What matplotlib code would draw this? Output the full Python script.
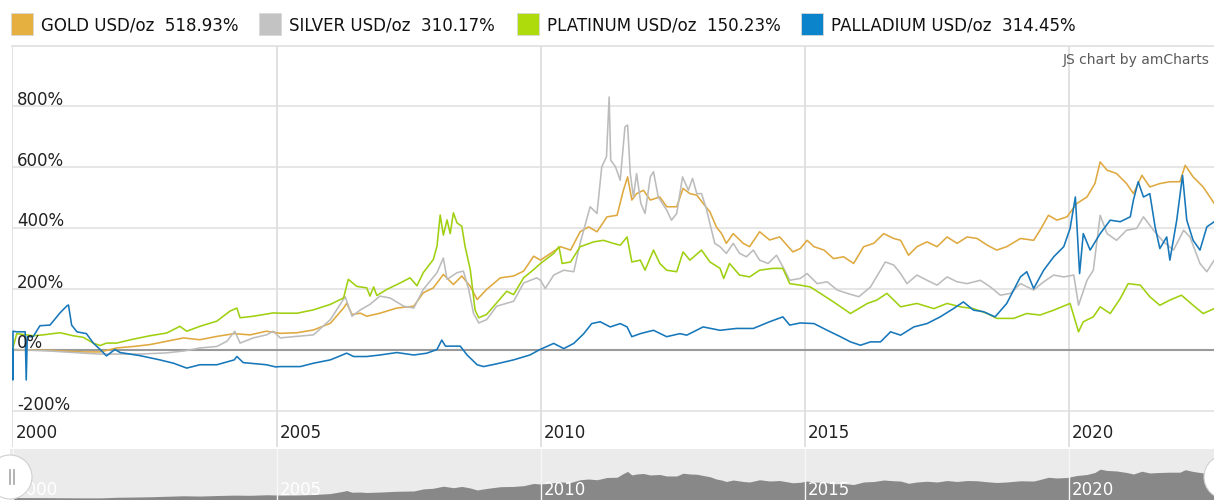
import matplotlib
matplotlib.use("Agg")
import matplotlib.pyplot as plt
import matplotlib.patches as mpatches
import matplotlib.transforms as mtransforms

# ---- data (percent change since 2000) ----
gold_years = [2000.00, 2000.71, 2001.34, 2001.66, 2001.97, 2002.29, 2002.60, 2002.92, 2003.24, 2003.55,
              2003.87, 2004.20, 2004.50, 2004.81, 2005.07, 2005.39, 2005.70, 2006.02, 2006.27, 2006.33,
              2006.43, 2006.59, 2006.71, 2006.96, 2007.28, 2007.60, 2007.78, 2007.97, 2008.16, 2008.35,
              2008.51, 2008.67, 2008.80, 2008.98, 2009.24, 2009.49, 2009.68, 2009.87, 2010.00, 2010.19,
              2010.38, 2010.57, 2010.75, 2010.91, 2011.07, 2011.26, 2011.45, 2011.57, 2011.65, 2011.73,
              2011.82, 2011.95, 2012.08, 2012.26, 2012.39, 2012.58, 2012.70, 2012.83, 2012.96, 2013.08,
              2013.21, 2013.33, 2013.43, 2013.52, 2013.65, 2013.84, 2013.96, 2014.15, 2014.34, 2014.53,
              2014.78, 2014.92, 2015.05, 2015.18, 2015.37, 2015.55, 2015.74, 2015.93, 2016.12, 2016.31,
              2016.50, 2016.69, 2016.82, 2016.97, 2017.13, 2017.32, 2017.51, 2017.70, 2017.89, 2018.08,
              2018.27, 2018.46, 2018.64, 2018.83, 2019.09, 2019.34, 2019.46, 2019.62, 2019.78, 2019.97,
              2020.16, 2020.35, 2020.50, 2020.60, 2020.73, 2020.91, 2021.10, 2021.23, 2021.39, 2021.54,
              2021.73, 2021.92, 2022.11, 2022.21, 2022.36, 2022.55, 2022.76]
gold_pct = [0, -3, -8, -8, 5, 10, 16, 27, 38, 32,
            43, 52, 48, 60, 53, 55, 64, 86, 136, 152,
            115, 119, 109, 119, 136, 142, 186, 202, 246, 213,
            241, 207, 164, 197, 235, 241, 257, 306, 293, 315,
            337, 326, 386, 402, 386, 435, 440, 522, 566, 490,
            511, 522, 490, 500, 468, 468, 528, 511, 506, 479,
            451, 402, 380, 348, 380, 348, 337, 386, 359, 369,
            320, 331, 358, 337, 326, 298, 304, 282, 337, 348,
            380, 364, 358, 309, 337, 353, 337, 369, 348, 369,
            364, 342, 326, 337, 364, 358, 391, 440, 424, 435,
            479, 500, 544, 615, 588, 577, 544, 511, 571, 533,
            544, 550, 550, 604, 566, 533, 479]

silver_years = [2000.00, 2000.71, 2001.34, 2001.66, 2002.04, 2002.41, 2002.92, 2003.24, 2003.55, 2003.87,
                2004.06, 2004.21, 2004.31, 2004.56, 2004.81, 2004.94, 2005.07, 2005.39, 2005.70, 2006.02,
                2006.30, 2006.43, 2006.59, 2006.77, 2006.96, 2007.15, 2007.41, 2007.60, 2007.78, 2008.04,
                2008.16, 2008.23, 2008.42, 2008.54, 2008.64, 2008.73, 2008.83, 2008.98, 2009.17, 2009.49,
                2009.68, 2009.93, 2010.00, 2010.09, 2010.25, 2010.44, 2010.63, 2010.75, 2010.94, 2011.07,
                2011.16, 2011.25, 2011.30, 2011.33, 2011.42, 2011.51, 2011.60, 2011.65, 2011.70, 2011.76,
                2011.82, 2011.90, 2011.98, 2012.08, 2012.14, 2012.23, 2012.39, 2012.48, 2012.58, 2012.69,
                2012.80, 2012.88, 2012.96, 2013.05, 2013.14, 2013.24, 2013.30, 2013.40, 2013.52, 2013.65,
                2013.77, 2013.90, 2014.03, 2014.15, 2014.31, 2014.47, 2014.59, 2014.72, 2014.92, 2015.05,
                2015.24, 2015.43, 2015.62, 2015.81, 2016.03, 2016.25, 2016.44, 2016.53, 2016.69, 2016.82,
                2016.94, 2017.13, 2017.32, 2017.51, 2017.70, 2017.89, 2018.08, 2018.33, 2018.52, 2018.71,
                2018.90, 2019.09, 2019.34, 2019.53, 2019.72, 2019.91, 2020.10, 2020.19, 2020.35, 2020.47,
                2020.60, 2020.73, 2020.91, 2021.10, 2021.29, 2021.42, 2021.61, 2021.80, 2021.99, 2022.18,
                2022.30, 2022.49, 2022.62, 2022.76]
silver_pct = [0, -5, -12, -15, -15, -15, -11, -5, 5, 10,
              27, 60, 21, 38, 48, 60, 38, 43, 48, 98,
              173, 109, 130, 148, 175, 169, 142, 136, 197, 252,
              300, 230, 252, 257, 197, 119, 87, 98, 142, 158,
              218, 235, 227, 200, 244, 260, 255, 348, 468, 446,
              599, 632, 828, 621, 599, 555, 730, 736, 577, 500,
              577, 479, 446, 566, 583, 500, 457, 424, 446, 566,
              522, 561, 511, 511, 462, 391, 348, 337, 315, 348,
              315, 304, 326, 293, 282, 309, 271, 227, 233, 249,
              216, 222, 195, 184, 173, 205, 260, 287, 277, 249,
              216, 244, 227, 211, 238, 222, 216, 227, 205, 178,
              184, 216, 195, 222, 244, 238, 244, 145, 227, 260,
              440, 380, 358, 391, 397, 435, 391, 353, 326, 391,
              369, 282, 255, 293]

platinum_years = [2000.00, 2000.08, 2000.39, 2000.58, 2000.90, 2001.15, 2001.34, 2001.53, 2001.66, 2001.78,
                  2001.97, 2002.29, 2002.60, 2002.92, 2003.17, 2003.30, 2003.55, 2003.87, 2004.12, 2004.25,
                  2004.31, 2004.56, 2004.94, 2005.07, 2005.39, 2005.70, 2006.02, 2006.27, 2006.36, 2006.52,
                  2006.71, 2006.77, 2006.84, 2006.90, 2007.09, 2007.34, 2007.53, 2007.66, 2007.78, 2007.97,
                  2008.04, 2008.10, 2008.16, 2008.23, 2008.29, 2008.35, 2008.42, 2008.51, 2008.57, 2008.67,
                  2008.76, 2008.83, 2008.98, 2009.17, 2009.36, 2009.49, 2009.68, 2009.87, 2010.00, 2010.25,
                  2010.35, 2010.41, 2010.57, 2010.75, 2011.01, 2011.19, 2011.38, 2011.51, 2011.64, 2011.73,
                  2011.89, 2011.98, 2012.14, 2012.26, 2012.39, 2012.58, 2012.70, 2012.83, 2013.05, 2013.21,
                  2013.40, 2013.47, 2013.58, 2013.77, 2013.96, 2014.15, 2014.40, 2014.59, 2014.72, 2014.92,
                  2015.11, 2015.30, 2015.55, 2015.87, 2016.19, 2016.37, 2016.56, 2016.82, 2017.13, 2017.45,
                  2017.70, 2017.95, 2018.20, 2018.46, 2018.64, 2018.96, 2019.21, 2019.46, 2019.72, 2020.03,
                  2020.19, 2020.28, 2020.47, 2020.60, 2020.79, 2020.98, 2021.13, 2021.36, 2021.54, 2021.73,
                  2021.92, 2022.14, 2022.36, 2022.55, 2022.76]
platinum_pct = [0, 52, 45, 48, 55, 45, 40, 21, 13, 21,
                21, 34, 45, 54, 76, 60, 76, 93, 126, 136,
                104, 109, 120, 119, 119, 130, 148, 169, 230, 207,
                202, 175, 205, 177, 197, 218, 235, 209, 252, 295,
                339, 441, 375, 425, 380, 448, 415, 404, 339, 262,
                130, 104, 115, 153, 191, 180, 235, 262, 282, 315,
                337, 282, 287, 337, 353, 358, 348, 342, 369, 287,
                293, 260, 326, 282, 260, 255, 320, 293, 326, 287,
                266, 233, 282, 244, 238, 260, 266, 266, 216, 211,
                205, 184, 156, 118, 151, 162, 184, 140, 151, 134,
                151, 140, 134, 118, 102, 102, 118, 113, 129, 151,
                58, 91, 107, 140, 118, 167, 216, 211, 173, 145,
                162, 178, 145, 118, 134]

palladium_years = [2000.00, 2000.005, 2000.01, 2000.08, 2000.24, 2000.26, 2000.28, 2000.39, 2000.52, 2000.71,
                   2000.90, 2001.03, 2001.06, 2001.12, 2001.22, 2001.40, 2001.53, 2001.66, 2001.78, 2001.94,
                   2002.04, 2002.41, 2002.79, 2003.05, 2003.30, 2003.55, 2003.87, 2004.20, 2004.25, 2004.37,
                   2004.81, 2004.98, 2005.07, 2005.45, 2005.70, 2006.02, 2006.33, 2006.46, 2006.71, 2006.96,
                   2007.28, 2007.60, 2007.85, 2008.04, 2008.13, 2008.20, 2008.48, 2008.61, 2008.80, 2008.92,
                   2009.17, 2009.49, 2009.80, 2009.99, 2010.25, 2010.44, 2010.63, 2010.82, 2010.97, 2011.13,
                   2011.32, 2011.51, 2011.64, 2011.73, 2011.89, 2012.14, 2012.39, 2012.64, 2012.77, 2013.08,
                   2013.40, 2013.71, 2014.03, 2014.34, 2014.59, 2014.72, 2014.92, 2015.18, 2015.43, 2015.68,
                   2015.87, 2016.06, 2016.25, 2016.44, 2016.63, 2016.82, 2017.07, 2017.32, 2017.57, 2017.82,
                   2018.01, 2018.20, 2018.39, 2018.61, 2018.83, 2019.09, 2019.21, 2019.34, 2019.53, 2019.72,
                   2019.91, 2020.03, 2020.13, 2020.21, 2020.28, 2020.41, 2020.60, 2020.79, 2020.98, 2021.17,
                   2021.23, 2021.32, 2021.42, 2021.54, 2021.64, 2021.73, 2021.86, 2021.92, 2022.05, 2022.16,
                   2022.24, 2022.36, 2022.49, 2022.62, 2022.76]
palladium_pct = [0, -100, 60, 58, 58, -100, 42, 42, 78, 80,
                 120, 143, 146, 80, 58, 52, 21, 0, -21, 0,
                 -10, -20, -34, -45, -61, -50, -50, -34, -23, -43,
                 -50, -57, -56, -56, -45, -34, -12, -23, -23, -18,
                 -10, -18, -12, 0, 31, 11, 11, -18, -50, -56,
                 -47, -34, -18, 0, 20, 3, 20, 52, 85, 91,
                 74, 85, 74, 42, 52, 63, 42, 52, 47, 74,
                 63, 69, 69, 91, 107, 80, 87, 85, 63, 42,
                 25, 14, 25, 25, 58, 47, 74, 85, 107, 134,
                 156, 129, 124, 107, 151, 238, 255, 200, 260, 304,
                 337, 397, 500, 249, 380, 326, 380, 424, 419, 435,
                 490, 550, 500, 511, 402, 331, 369, 293, 424, 571,
                 424, 358, 326, 402, 419]

series_names = ["GOLD USD/oz", "SILVER USD/oz", "PLATINUM USD/oz", "PALLADIUM USD/oz"]
series_totals = ["518.93%", "310.17%", "150.23%", "314.45%"]
legend_colors = ["#e5b040", "#c3c3c3", "#addb0c", "#0c84cb"]
line_colors = ["#dfa940", "#bcbcbc", "#9fd010", "#1677ba"]

y_ticks = [-200, 0, 200, 400, 600, 800]
year_ticks = [2000, 2005, 2010, 2015, 2020]

W, H = 1214, 500
fig = plt.figure(figsize=(W / 100, H / 100), dpi=100)
plt.rcParams['font.family'] = ['DejaVu Sans']

# pixel -> data mapping of the original chart
px_per_year = 52.8
x0 = 12.5
xmax = 2000 + (W - x0) / px_per_year
top_px = 46

def val_at(ypix):
    return (349.5 - ypix) * 200 / 61

# ---- main plot ----
ax = fig.add_axes([12 / W, (H - 447) / H, (W - 12) / W, (447 - top_px) / H])
ax.set_xlim(2000 + (12 - x0) / px_per_year, xmax)
ax.set_ylim(val_at(447), val_at(top_px))
for s in ['left', 'right', 'bottom']:
    ax.spines[s].set_visible(False)
ax.spines['top'].set_color('#e2e2e2')
ax.spines['top'].set_linewidth(1.3)
ax.set_xticks([])
ax.set_yticks([])

for v in y_ticks:
    if v == 0:
        ax.axhline(v, color='#9a9a9a', lw=1.5, zorder=1)
    else:
        ax.axhline(v, color='#e4e4e4', lw=1.3, zorder=0)
for yr in year_ticks:
    ax.axvline(yr, color='#dedede', lw=1.3, zorder=0)

all_years = [gold_years, silver_years, platinum_years, palladium_years]
all_pct = [gold_pct, silver_pct, platinum_pct, palladium_pct]
for xs, ys, c in zip(all_years, all_pct, line_colors):
    ax.plot(xs, ys, color=c, lw=1.15, zorder=3, solid_joinstyle='round')

ytrans = mtransforms.offset_copy(ax.get_yaxis_transform(), fig=fig, x=5, y=1, units='dots')
for v in y_ticks:
    ax.text(0, v, f"{v}%", transform=ytrans, ha='left', va='baseline',
            fontsize=12, color='#222222', zorder=4)

xtrans = mtransforms.offset_copy(ax.get_xaxis_transform(), fig=fig, x=3, y=0, units='dots')
for yr in year_ticks:
    ax.text(yr, 9 / (447 - top_px), str(yr), transform=xtrans, ha='left', va='baseline',
            fontsize=12, color='#222222')

fig.text(1210 / W, 1 - 60 / H, "JS chart by amCharts", ha='right', va='center',
         fontsize=10, color='#5a5a5a')

# ---- legend ----
sq_x = [11, 259, 517, 801]
for i, name in enumerate(series_names):
    fig.add_artist(mpatches.Rectangle((sq_x[i] / W, 1 - 35 / H), 22 / W, 22 / H,
                                      transform=fig.transFigure, facecolor=legend_colors[i],
                                      edgecolor='#d8d8d8', lw=0.6))
    fig.text((sq_x[i] + 30) / W, 1 - 31 / H, f"{name}  {series_totals[i]}",
             ha='left', va='baseline', fontsize=12, color='#111111')

# ---- scrollbar / navigator ----
nav = fig.add_axes([10 / W, 0, (W - 10) / W, 51 / H])
nav.set_xlim(2000 + (10 - x0) / px_per_year, xmax)
nav.set_ylim(-54, 1054)
nav.set_facecolor('#ebebeb')
for s in nav.spines.values():
    s.set_visible(False)
nav.set_xticks([])
nav.set_yticks([])
nav.fill_between(gold_years, -54, gold_pct, color='#888888', lw=0, zorder=1)
for yr in year_ticks:
    nav.axvline(yr, color='#f7f7f7', lw=1.0, zorder=2)
ntrans = mtransforms.offset_copy(nav.get_xaxis_transform(), fig=fig, x=3, y=0, units='dots')
for yr in year_ticks:
    nav.text(yr, 0.10, str(yr), transform=ntrans, ha='left', va='baseline',
             fontsize=12, color='white', zorder=3)

ident = mtransforms.IdentityTransform()
for cx in [10, W + 12]:
    fig.add_artist(mpatches.Circle((cx, 23), 22, transform=ident, facecolor='white',
                                   edgecolor='#d0d0d0', lw=0.8, zorder=5))
for gx in [10, 13.5]:
    fig.add_artist(plt.Line2D([gx, gx], [16, 30], transform=ident, color='#a5a5a5',
                              lw=1.2, zorder=6))

fig.savefig("out.png", dpi=100)
